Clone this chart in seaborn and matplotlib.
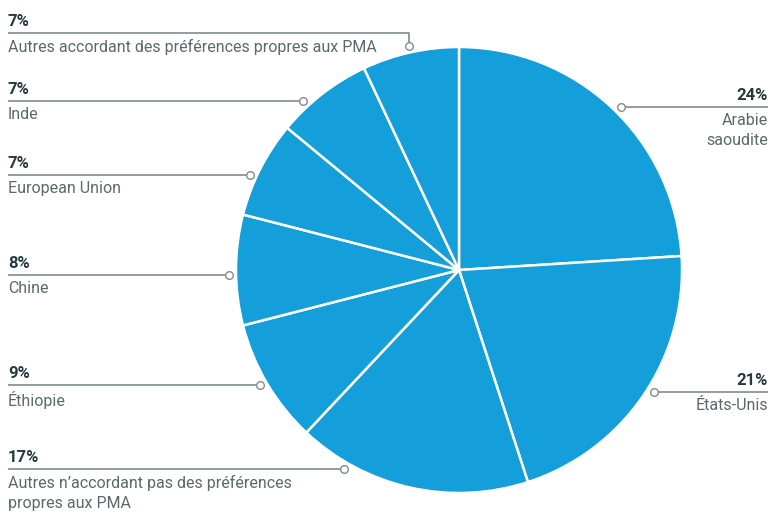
import numpy as np
import matplotlib
matplotlib.use("Agg")
import matplotlib.pyplot as plt
import seaborn as sns

# ---- data (clockwise from 12 o'clock) ----
categories = [
    "Arabie\nsaoudite",
    "États-Unis",
    "Autres n’accordant pas des préférences\npropres aux PMA",
    "Éthiopie",
    "Chine",
    "European Union",
    "Inde",
    "Autres accordant des préférences propres aux PMA",
]
shares = [24, 21, 17, 9, 8, 7, 7, 7]
pct_labels = ["24%", "21%", "17%", "9%", "8%", "7%", "7%", "7%"]

# ---- layout ----
sides = ["right", "right", "left", "left", "left", "left", "left", "left"]
line_y = [107, 392, 469, 385, 275, 175, 101, 33]

sns.set_theme(style="white")
plt.rcParams["font.family"] = ["Roboto", "DejaVu Sans"]

BLUE = "#149fda"
DARK = "#263a3d"
GREY = "#5c686a"
LINE = "#7f8c8d"

W, H = 772, 515
fig = plt.figure(figsize=(W / 100, H / 100), dpi=100)
ax = fig.add_axes([0, 0, 1, 1])

cx, cy, R = 459, 270, 223
wedges, _ = ax.pie(shares, startangle=-90, counterclock=True, center=(cx, cy), radius=R,
                   colors=[BLUE] * len(shares),
                   wedgeprops=dict(edgecolor="white", linewidth=1.8))
ax.set_xlim(0, W)
ax.set_ylim(H, 0)
ax.set_aspect("equal")
ax.axis("off")

Rc = 230
for w, cat, pct, side, ly in zip(wedges, categories, pct_labels, sides, line_y):
    mid = np.deg2rad((w.theta1 + w.theta2) / 2)
    dy = ly - cy
    sgn = 1 if side == "right" else -1
    if abs(dy) < Rc:
        mx = cx + sgn * np.sqrt(Rc ** 2 - dy ** 2)
        my = ly
        pts_x, pts_y = [mx], [ly]
    else:
        mx = cx + Rc * np.cos(mid)
        my = cy + Rc * np.sin(mid)
        pts_x, pts_y = [mx, mx], [ly, my]
    tx = 768 if side == "right" else 8
    ax.plot([tx] + pts_x, [ly] + pts_y, color=LINE, lw=1.2, solid_capstyle="butt", zorder=3)
    ax.plot([mx], [my], marker="o", ms=5.5, mfc="white", mec=LINE, mew=1.0, zorder=4)
    ha = "right" if side == "right" else "left"
    ax.text(tx, ly - 7, pct, ha=ha, va="baseline", fontsize=12, fontweight="bold", color=DARK)
    ax.text(tx, ly + 6, cat, ha=ha, va="top", fontsize=11.5, color=GREY, linespacing=1.4)

fig.savefig("out.png", dpi=100)
